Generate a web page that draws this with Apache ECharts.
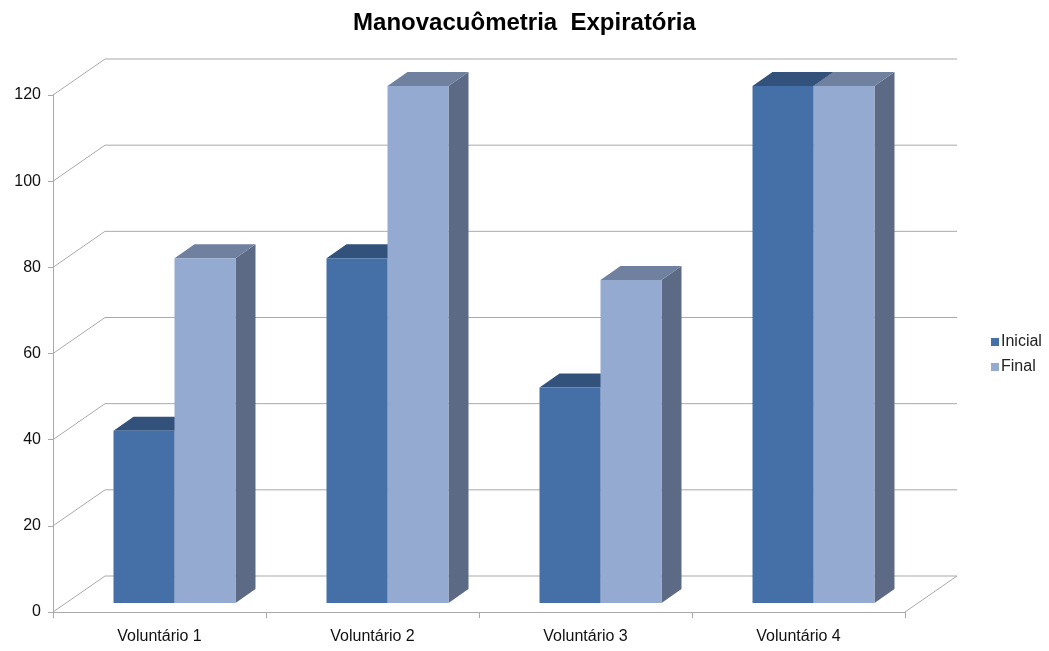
<!DOCTYPE html>
<html>
<head>
<meta charset="utf-8">
<script src="https://cdn.jsdelivr.net/npm/echarts@6/dist/echarts.min.js"></script>
<style>
    html, body { margin: 0; padding: 0; background: #fff; }
    #chart { width: 1049px; height: 651px; }
</style>
</head>
<body>
<div id="chart"></div>
<script>
// dados do gráfico
var categorias = ['Voluntário 1', 'Voluntário 2', 'Voluntário 3', 'Voluntário 4'];
var inicial = [40, 80, 50, 120];
var final = [80, 120, 75, 120];
var ticksY = [0, 20, 40, 60, 80, 100, 120];

// deslocamentos da perspectiva (px)
var PAREDE_DX = 52, PAREDE_DY = -36;   // parede do fundo
var BARRA_DX = 15, BARRA_DY = -9;      // plano das barras
var PROF_DX = 20, PROF_DY = -14;       // profundidade da barra
var LARG = 61;                          // largura de cada barra
var corLinha = '#a9a9a9';

var myChart = echarts.init(document.getElementById('chart'));

// grade do fundo + diagonais da parede lateral
function renderGrade(params, api) {
    var cs = params.coordSys;
    var y = api.coord([0, api.value(0)])[1];
    var x0 = cs.x;
    var pts = [[x0, y], [x0 + PAREDE_DX, y + PAREDE_DY], [x0 + cs.width + PAREDE_DX, y + PAREDE_DY]];
    var filhos = [{
        type: 'polyline',
        shape: { points: pts },
        style: { stroke: corLinha, lineWidth: 1, fill: null }
    }];
    if (api.value(0) === 0) {
        // borda direita do piso
        filhos.push({
            type: 'line',
            shape: { x1: x0 + cs.width, y1: y, x2: x0 + cs.width + PAREDE_DX, y2: y + PAREDE_DY },
            style: { stroke: corLinha, lineWidth: 1 }
        });
    }
    return { type: 'group', children: filhos };
}

function fazBarra(lado, cores) {
    return function (params, api) {
        var cat = api.value(0);
        var topo = api.coord([cat, api.value(1)]);
        var base = api.coord([cat, 0]);
        var cx = topo[0] + BARRA_DX;
        var yt = topo[1] + BARRA_DY;
        var yb = base[1] + BARRA_DY;
        var x0 = lado < 0 ? cx - LARG : cx;
        var x1 = x0 + LARG;
        return {
            type: 'group',
            children: [
                {
                    type: 'polygon',
                    shape: { points: [[x1, yt], [x1 + PROF_DX, yt + PROF_DY], [x1 + PROF_DX, yb + PROF_DY], [x1, yb]] },
                    style: { fill: cores.lado }
                },
                {
                    type: 'polygon',
                    shape: { points: [[x0, yt], [x1, yt], [x1 + PROF_DX, yt + PROF_DY], [x0 + PROF_DX, yt + PROF_DY]] },
                    style: { fill: cores.topo }
                },
                {
                    type: 'rect',
                    shape: { x: x0, y: yt, width: LARG, height: yb - yt },
                    style: { fill: cores.frente }
                }
            ]
        };
    };
}

var option = {
    animation: false,
    title: {
        text: 'Manovacuômetria  Expiratória',
        left: 'center',
        top: 6,
        textStyle: {
            fontFamily: 'Liberation Sans',
            fontWeight: 'bold',
            fontSize: 24,
            color: '#000'
        }
    },
    legend: {
        orient: 'vertical',
        left: 986,
        top: 329,
        itemWidth: 8,
        itemHeight: 8,
        itemGap: 9,
        icon: 'rect',
        data: ['Inicial', 'Final'],
        textStyle: { fontFamily: 'Liberation Sans', fontSize: 16, color: '#222', padding: [0, 0, 0, -3] }
    },
    grid: {
        left: 53,
        right: 144,
        top: 95,
        bottom: 39
    },
    xAxis: {
        type: 'category',
        data: categorias,
        axisLine: { lineStyle: { color: corLinha } },
        axisTick: { show: true, length: 6, lineStyle: { color: corLinha } },
        axisLabel: { fontFamily: 'Liberation Sans', fontSize: 16, color: '#111', margin: 17 }
    },
    yAxis: {
        type: 'value',
        min: 0,
        max: 120,
        interval: 20,
        axisLine: { show: true, lineStyle: { color: corLinha } },
        axisTick: { show: true, length: 5, lineStyle: { color: corLinha } },
        splitLine: { show: false },
        axisLabel: { fontFamily: 'Liberation Sans', fontSize: 16, color: '#111', margin: 12 }
    },
    series: [
        {
            name: 'grade',
            type: 'custom',
            renderItem: renderGrade,
            data: ticksY.map(function (v) { return [v]; }),
            encode: { y: 0 },
            silent: true,
            z: 1
        },
        {
            name: 'Inicial',
            type: 'custom',
            itemStyle: { color: '#4570a7' },
            renderItem: fazBarra(-1, { frente: '#4570a7', topo: '#32527c', lado: '#32527c' }),
            data: inicial.map(function (v, i) { return [i, v]; }),
            encode: { x: 0, y: 1 },
            z: 3
        },
        {
            name: 'Final',
            type: 'custom',
            itemStyle: { color: '#95aad1' },
            renderItem: fazBarra(1, { frente: '#95aad1', topo: '#6f819f', lado: '#5c6a86' }),
            data: final.map(function (v, i) { return [i, v]; }),
            encode: { x: 0, y: 1 },
            z: 4
        }
    ]
};

myChart.setOption(option);
</script>
</body>
</html>
